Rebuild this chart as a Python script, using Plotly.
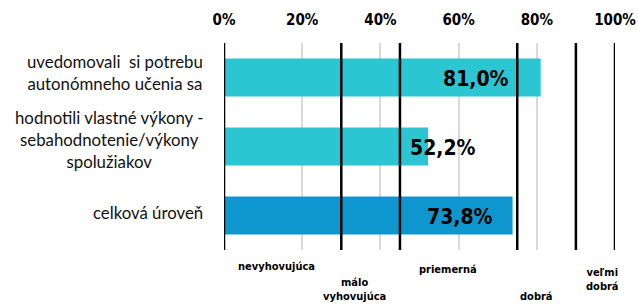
import plotly.graph_objects as go

categories = ["uvedomovali\u00a0 si potrebu<br>autonómneho učenia sa",
              "hodnotili vlastné výkony -<br>sebahodnotenie/výkony<br>spolužiakov",
              "celková úroveň"]
values = [81.0, 52.2, 73.8]
value_labels = ["81,0%", "52,2%", "73,8%"]
bar_colors = ["#2CC5D2", "#2CC5D2", "#0E97CF"]
boundaries = [0, 30, 45, 75, 90, 100]
level_names = ["nevyhovujúca", "málo<br>vyhovujúca", "priemerná", "dobrá", "veľmi<br>dobrá"]
tick_vals = [0, 20, 40, 60, 80, 100]
tick_text = ["0%", "20%", "40%", "60%", "80%", "100%"]

# styling
label_xshift = [-30, 50, -18]
level_pos = [13.3, 33.5, 57.3, 80.0, 96.7]
level_yshift = [-16, -39, -19, -46, -29]
heavy = "DejaVu Sans Condensed"

fig = go.Figure()
fig.add_trace(go.Bar(
    y=categories, x=values, orientation="h",
    marker=dict(color=bar_colors, line=dict(width=0)),
    hoverinfo="skip", showlegend=False,
))

for c, v, t, dx in zip(categories, values, value_labels, label_xshift):
    fig.add_annotation(x=v, y=c, xref="x", yref="y", text=t, showarrow=False,
                       xanchor="right", xshift=dx, yshift=-1,
                       font=dict(family=heavy, size=21, color="black", weight="bold"))

for c, sh in zip(categories, [5, 7, 3]):
    fig.add_annotation(x=0, y=c, xref="paper", yref="y", text=c, showarrow=False,
                       xanchor="right", xshift=-19, yshift=sh, align="center",
                       font=dict(family="Lato", size=16.8, color="#111"))

for b in boundaries:
    fig.add_shape(type="line", xref="x", yref="paper", x0=b, x1=b, y0=0, y1=1,
                  line=dict(color="black", width=2.5), layer="above")

for name, p, ys in zip(level_names, level_pos, level_yshift):
    fig.add_annotation(x=p, y=0, xref="x", yref="paper", text=name, showarrow=False,
                       xanchor="center", yanchor="middle", yshift=ys, align="center",
                       font=dict(family=heavy, size=11, color="black", weight="bold"))

fig.update_layout(
    width=638, height=307,
    margin=dict(l=224, r=23, t=43, b=57),
    plot_bgcolor="white", paper_bgcolor="white",
    bargap=0.45,
    xaxis=dict(range=[0, 100], side="top", tickvals=tick_vals, ticktext=tick_text,
               showgrid=True, gridcolor="#D9D9D9", gridwidth=2, zeroline=False,
               showline=False, ticks="", ticklabelstandoff=14, automargin=False,
               tickfont=dict(family=heavy, size=15, color="black", weight="bold")),
    yaxis=dict(autorange="reversed", showticklabels=False, showgrid=False,
               zeroline=False, showline=False, ticks="", automargin=False),
)

fig.write_html("out.html", config={"displayModeBar": False},
               post_script="document.body.style.margin='0';document.body.style.overflow='hidden';")
